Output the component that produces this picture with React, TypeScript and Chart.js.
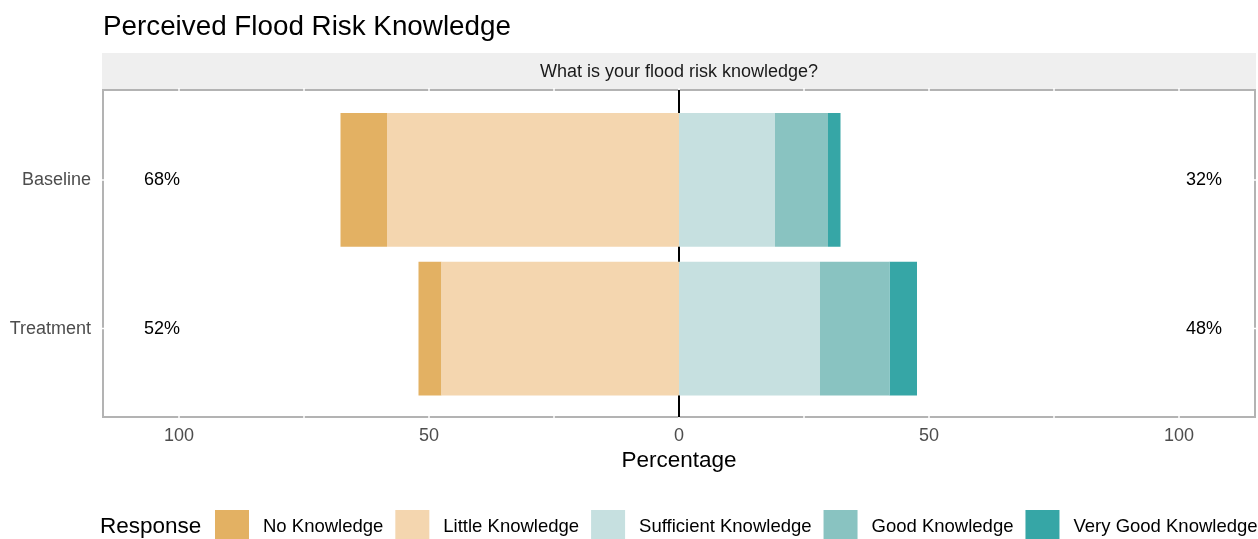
import { useEffect, useRef } from 'react';
import { Chart, registerables } from 'chart.js';

Chart.register(...registerables);

const categories = ['Baseline', 'Treatment'];
const responses = ['No Knowledge', 'Little Knowledge', 'Sufficient Knowledge', 'Good Knowledge', 'Very Good Knowledge'];
const noKnowledge = [9.3, 4.6];
const littleKnowledge = [58.4, 47.5];
const sufficientKnowledge = [19.2, 28.2];
const goodKnowledge = [10.6, 13.9];
const veryGoodKnowledge = [2.5, 5.5];
const colors = ['#E3B163', '#F4D6AF', '#C6E0E0', '#89C3C1', '#36A6A6'];
const xTicks = [-100, -50, 0, 50, 100];
const gridValues = [-100, -75, -50, -25, 0, 25, 50, 75, 100];
const title = 'Perceived Flood Risk Knowledge';
const stripLabel = 'What is your flood risk knowledge?';
const xTitle = 'Percentage';
const legendTitle = 'Response';
const leftLabelAt = -103.4;
const rightLabelAt = 105;

const FONT = "'Liberation Sans', Arial, Helvetica, sans-serif";

export default function App() {
  const ref = useRef<HTMLCanvasElement | null>(null);

  useEffect(() => {
    document.body.style.margin = '0';
    const canvas = ref.current;
    if (!canvas) return;

    const toPts = (arr: number[], sign: number) => arr.map((v, i) => ({ x: sign * v, y: i }));
    const leftTotals = categories.map((_, i) => noKnowledge[i] + littleKnowledge[i]);
    const rightTotals = categories.map((_, i) => sufficientKnowledge[i] + goodKnowledge[i] + veryGoodKnowledge[i]);

    const decor = {
      id: 'decor',
      beforeDatasetsDraw(chart: any) {
        const { ctx, chartArea } = chart;
        const { left, top, right, bottom } = chartArea;
        const xs = chart.scales.x;
        const ys = chart.scales.y;
        ctx.save();
        ctx.fillStyle = '#EFEFEF';
        ctx.fillRect(left - 1, 53, right - left + 2, top - 54);
        ctx.strokeStyle = '#B3B3B3';
        ctx.lineWidth = 2;
        ctx.strokeRect(left, top, right - left, bottom - top);
        ctx.strokeStyle = '#FFFFFF';
        ctx.lineWidth = 1.5;
        gridValues.forEach((v) => {
          const px = xs.getPixelForValue(v);
          ctx.beginPath();
          ctx.moveTo(px, top - 2);
          ctx.lineTo(px, bottom + 2);
          ctx.stroke();
        });
        categories.forEach((_, i) => {
          const py = ys.getPixelForValue(i);
          ctx.beginPath();
          ctx.moveTo(left - 2, py);
          ctx.lineTo(right + 2, py);
          ctx.stroke();
        });
        const x0 = xs.getPixelForValue(0);
        ctx.strokeStyle = '#000000';
        ctx.lineWidth = 2;
        ctx.beginPath();
        ctx.moveTo(x0, top);
        ctx.lineTo(x0, bottom);
        ctx.stroke();
        ctx.restore();
      },
      afterDraw(chart: any) {
        const { ctx, chartArea } = chart;
        const { left, right } = chartArea;
        const xs = chart.scales.x;
        const ys = chart.scales.y;
        ctx.save();
        ctx.textBaseline = 'middle';
        ctx.fillStyle = '#000000';
        ctx.textAlign = 'left';
        ctx.font = `27.8px ${FONT}`;
        ctx.fillText(title, 103, 27);
        ctx.fillStyle = '#1A1A1A';
        ctx.textAlign = 'center';
        ctx.font = `18px ${FONT}`;
        ctx.fillText(stripLabel, (left + right) / 2, 72);
        ctx.fillStyle = '#000000';
        categories.forEach((_, i) => {
          const py = ys.getPixelForValue(i);
          ctx.fillText(`${Math.round(leftTotals[i])}%`, xs.getPixelForValue(leftLabelAt), py);
          ctx.fillText(`${Math.round(rightTotals[i])}%`, xs.getPixelForValue(rightLabelAt), py);
        });
        ctx.textAlign = 'left';
        ctx.font = `22.5px ${FONT}`;
        ctx.fillText(legendTitle, 100, 527);
        let x = 215;
        ctx.font = `18.5px ${FONT}`;
        responses.forEach((r, i) => {
          ctx.fillStyle = colors[i];
          ctx.fillRect(x, 510, 34, 34);
          ctx.fillStyle = '#000000';
          ctx.fillText(r, x + 48, 527);
          x += 48 + ctx.measureText(r).width + 12;
        });
        ctx.restore();
      },
    };

    const chart = new Chart(canvas, {
      type: 'bar',
      data: {
        datasets: [
          { label: responses[1], data: toPts(littleKnowledge, -1), backgroundColor: colors[1] },
          { label: responses[0], data: toPts(noKnowledge, -1), backgroundColor: colors[0] },
          { label: responses[2], data: toPts(sufficientKnowledge, 1), backgroundColor: colors[2] },
          { label: responses[3], data: toPts(goodKnowledge, 1), backgroundColor: colors[3] },
          { label: responses[4], data: toPts(veryGoodKnowledge, 1), backgroundColor: colors[4] },
        ] as any,
      },
      options: {
        indexAxis: 'y',
        responsive: false,
        animation: false,
        devicePixelRatio: 1,
        layout: { padding: { left: 0, right: 3, top: 90, bottom: 52 } },
        datasets: { bar: { barPercentage: 0.9, categoryPercentage: 1, borderWidth: 0, grouped: false } },
        plugins: { legend: { display: false }, tooltip: { enabled: false }, title: { display: false } },
        scales: {
          x: {
            type: 'linear',
            stacked: true,
            min: -115.2,
            max: 115.2,
            grid: { display: false, drawTicks: false },
            border: { display: false },
            afterBuildTicks: (s: any) => { s.ticks = xTicks.map((v) => ({ value: v })); },
            afterFit: (s: any) => { s.height = 70; },
            ticks: {
              padding: 8,
              color: '#4D4D4D',
              font: { family: FONT, size: 18 },
              callback: (v: any) => String(Math.abs(Number(v))),
            },
            title: {
              display: true,
              text: xTitle,
              color: '#000000',
              font: { family: FONT, size: 22.5 },
              padding: { top: 0, bottom: 12.5 },
            },
          },
          y: {
            type: 'linear',
            offset: false,
            reverse: true,
            min: -0.605,
            max: 1.595,
            grid: { display: false, drawTicks: false, offset: false },
            border: { display: false },
            afterBuildTicks: (s: any) => { s.ticks = categories.map((_, i) => ({ value: i })); },
            afterFit: (s: any) => { s.width = 103; },
            ticks: {
              padding: 12,
              color: '#4D4D4D',
              font: { family: FONT, size: 18 },
              callback: (v: any) => categories[Number(v)] ?? '',
            },
          },
        },
      } as any,
      plugins: [decor],
    });

    return () => chart.destroy();
  }, []);

  return (
    <div style={{ width: 1258, height: 539 }}>
      <canvas ref={ref} width={1258} height={539} style={{ width: 1258, height: 539, display: 'block' }} />
    </div>
  );
}
